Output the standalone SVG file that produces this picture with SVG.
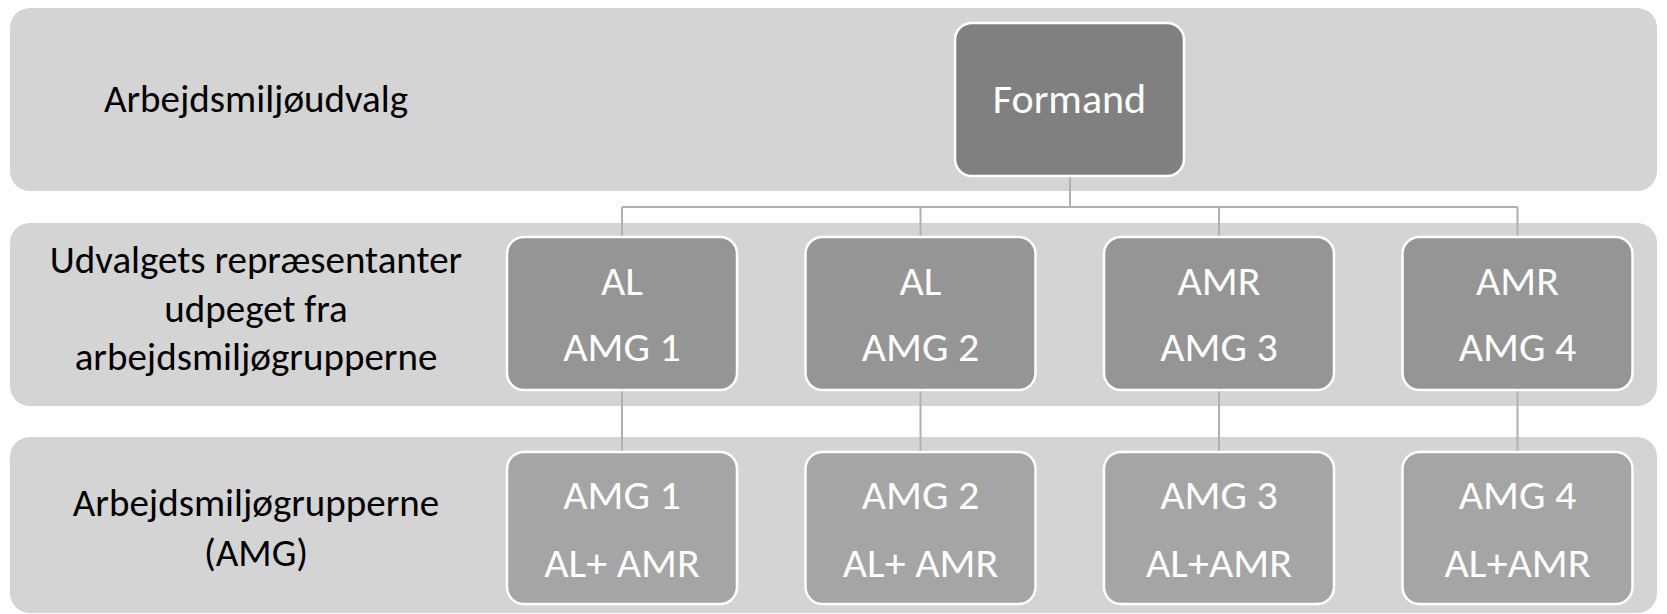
<svg xmlns="http://www.w3.org/2000/svg" width="1667" height="614" viewBox="0 0 1667 614">
  <style>
    .band { fill: #d4d4d4; }
    .node { stroke: #ffffff; stroke-width: 2.5; }
    .top { fill: #808080; }
    .mid { fill: #959595; }
    .low { fill: #a5a5a5; }
    .label { font-family: Carlito, Calibri, Lato, "Liberation Sans", sans-serif; font-size: 39px; fill: #000000; text-anchor: middle; }
    .ntext { font-family: Carlito, Calibri, Lato, "Liberation Sans", sans-serif; font-size: 42px; fill: #ffffff; text-anchor: middle; }
    .conn { stroke: #b0b0b0; stroke-width: 2; fill: none; }
  </style>

  <!-- tier backgrounds -->
  <g id="tiers">
    <rect class="band" x="10" y="8" width="1647" height="183" rx="20"/>
    <rect class="band" x="10" y="223" width="1647" height="183" rx="20"/>
    <rect class="band" x="10" y="437" width="1647" height="176" rx="20"/>
  </g>

  <!-- tier labels -->
  <g id="tier-labels">
    <text class="label" x="256" y="111.5">Arbejdsmiljøudvalg</text>
    <text class="label" x="256" y="273">Udvalgets repræsentanter</text>
    <text class="label" x="256" y="321.5">udpeget fra</text>
    <text class="label" x="256" y="370">arbejdsmiljøgrupperne</text>
    <text class="label" x="256" y="515.5">Arbejdsmiljøgrupperne</text>
    <text class="label" x="256" y="565.5">(AMG)</text>
  </g>

  <!-- connectors -->
  <g id="connectors">
    <path class="conn" d="M1070 176 V207 M622 207 H1517.5 M622 207 V237 M920.5 207 V237 M1219 207 V237 M1517.5 207 V237"/>
    <path class="conn" d="M622 390 V452 M920.5 390 V452 M1219 390 V452 M1517.5 390 V452"/>
  </g>

  <g id="formand">
    <rect class="node top" x="955" y="23" width="229" height="153" rx="17"/>
    <text class="ntext" x="1069.5" y="112.5">Formand</text>
  </g>

  <g id="rep-1">
    <rect class="node mid" x="507" y="237" width="230" height="153" rx="17"/>
    <text class="ntext" x="622" y="294.5">AL</text>
    <text class="ntext" x="622" y="361">AMG 1</text>
  </g>
  <g id="rep-2">
    <rect class="node mid" x="805.5" y="237" width="230" height="153" rx="17"/>
    <text class="ntext" x="920.5" y="294.5">AL</text>
    <text class="ntext" x="920.5" y="361">AMG 2</text>
  </g>
  <g id="rep-3">
    <rect class="node mid" x="1104" y="237" width="230" height="153" rx="17"/>
    <text class="ntext" x="1219" y="294.5">AMR</text>
    <text class="ntext" x="1219" y="361">AMG 3</text>
  </g>
  <g id="rep-4">
    <rect class="node mid" x="1402.5" y="237" width="230" height="153" rx="17"/>
    <text class="ntext" x="1517.5" y="294.5">AMR</text>
    <text class="ntext" x="1517.5" y="361">AMG 4</text>
  </g>

  <g id="amg-1">
    <rect class="node low" x="507" y="452" width="230" height="152" rx="17"/>
    <text class="ntext" x="622" y="509">AMG 1</text>
    <text class="ntext" x="622" y="576.5">AL+ AMR</text>
  </g>
  <g id="amg-2">
    <rect class="node low" x="805.5" y="452" width="230" height="152" rx="17"/>
    <text class="ntext" x="920.5" y="509">AMG 2</text>
    <text class="ntext" x="920.5" y="576.5">AL+ AMR</text>
  </g>
  <g id="amg-3">
    <rect class="node low" x="1104" y="452" width="230" height="152" rx="17"/>
    <text class="ntext" x="1219" y="509">AMG 3</text>
    <text class="ntext" x="1219" y="576.5">AL+AMR</text>
  </g>
  <g id="amg-4">
    <rect class="node low" x="1402.5" y="452" width="230" height="152" rx="17"/>
    <text class="ntext" x="1517.5" y="509">AMG 4</text>
    <text class="ntext" x="1517.5" y="576.5">AL+AMR</text>
  </g>
</svg>
